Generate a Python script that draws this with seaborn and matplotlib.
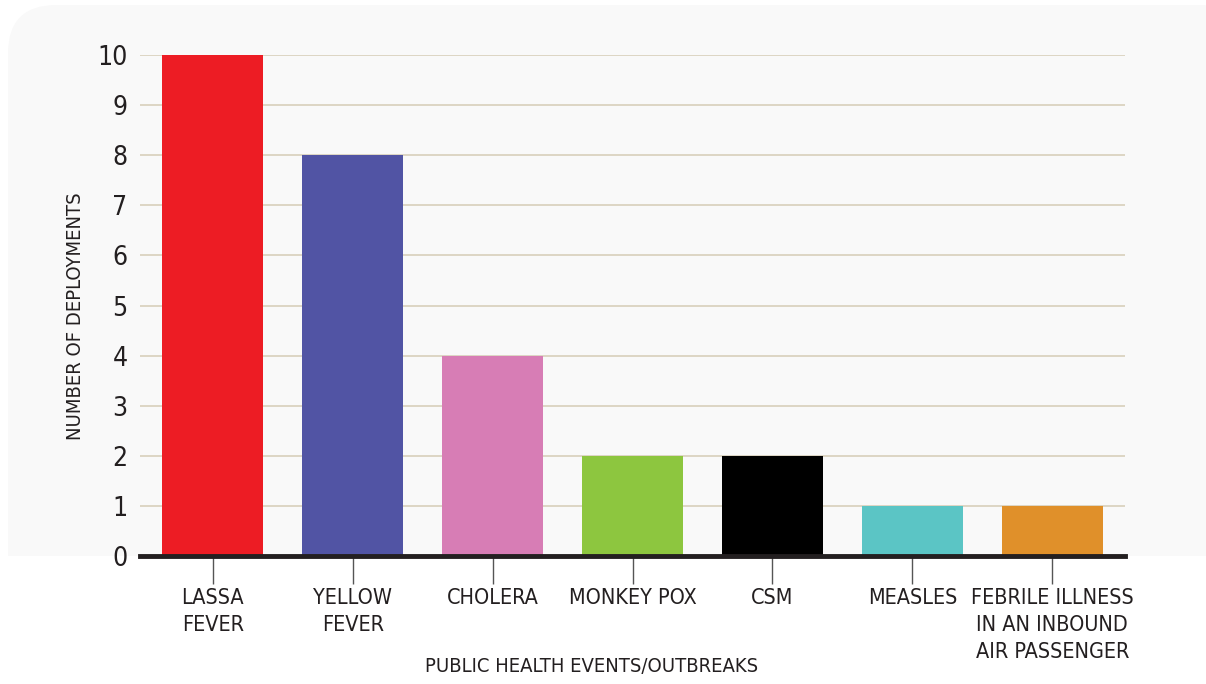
import matplotlib
matplotlib.use("Agg")
import matplotlib.pyplot as plt
from matplotlib.patches import FancyBboxPatch, Rectangle
import seaborn as sns
import pandas as pd

categories = ["LASSA\nFEVER", "YELLOW\nFEVER", "CHOLERA", "MONKEY POX", "CSM",
              "MEASLES", "FEBRILE ILLNESS\nIN AN INBOUND\nAIR PASSENGER"]
deployments = [10, 8, 4, 2, 2, 1, 1]
bar_colors = ["#ed1c24", "#5154a4", "#d77db5", "#8dc63f", "#000000", "#5bc5c5", "#e0902a"]
y_ticks = list(range(0, 11))

sns.set_theme(style="white")
plt.rcParams["font.family"] = ["DejaVu Sans"]
plt.rcParams["font.stretch"] = "condensed"

df = pd.DataFrame({"event": categories, "count": deployments})

fig = plt.figure(figsize=(12.06, 6.84), dpi=100)
fig.patch.set_facecolor("white")

# rounded light panel behind the plot, cut off at the x axis
W, H = 1206, 684
bg = FancyBboxPatch((8 / W, 0), 1240 / W, 679 / H,
                    boxstyle="round,pad=0,rounding_size=0.04",
                    transform=fig.transFigure, facecolor="#f9f9f9",
                    edgecolor="none", zorder=-2, mutation_aspect=W / H)
fig.patches.append(bg)
fig.patches.append(Rectangle((0, 0), 1, 1 - 556 / H, transform=fig.transFigure,
                             facecolor="white", edgecolor="none", zorder=-1))

ax = fig.add_axes([140 / W, 1 - 556 / H, (1125 - 140) / W, (556 - 55) / H])
ax.set_facecolor("none")

sns.barplot(data=df, x="event", y="count", hue="event", palette=bar_colors,
            legend=False, width=0.72, saturation=1, linewidth=0, ax=ax, zorder=3)

ax.set_xlim(-0.52, 6.52)
ax.set_ylim(0, 10)
ax.set_yticks(y_ticks)
ax.yaxis.grid(True, color="#d8d0bb", linewidth=1.2, zorder=0)
ax.set_axisbelow(True)
for s in ["top", "right", "left"]:
    ax.spines[s].set_visible(False)
ax.spines["bottom"].set_color("#231f20")
ax.spines["bottom"].set_linewidth(3.5)
ax.spines["bottom"].set_zorder(5)

ax.tick_params(axis="y", length=0, labelsize=19, pad=9, labelcolor="#231f20")
ax.tick_params(axis="x", length=20, width=1, color="#555555", direction="out",
               labelsize=15.5, pad=3, labelcolor="#231f20", bottom=True)
for lbl in ax.get_xticklabels():
    lbl.set_linespacing(1.45)

ax.set_xlabel("")
ax.set_ylabel("NUMBER OF DEPLOYMENTS", fontsize=14.5, color="#231f20")
ax.yaxis.set_label_coords((85 - 140) / 985, (556 - 316) / 501)
fig.text(592 / W, 1 - 667 / H, "PUBLIC HEALTH EVENTS/OUTBREAKS", ha="center",
         va="center", fontsize=14.5, color="#231f20")

fig.savefig("out.png", dpi=100, facecolor=fig.get_facecolor())
